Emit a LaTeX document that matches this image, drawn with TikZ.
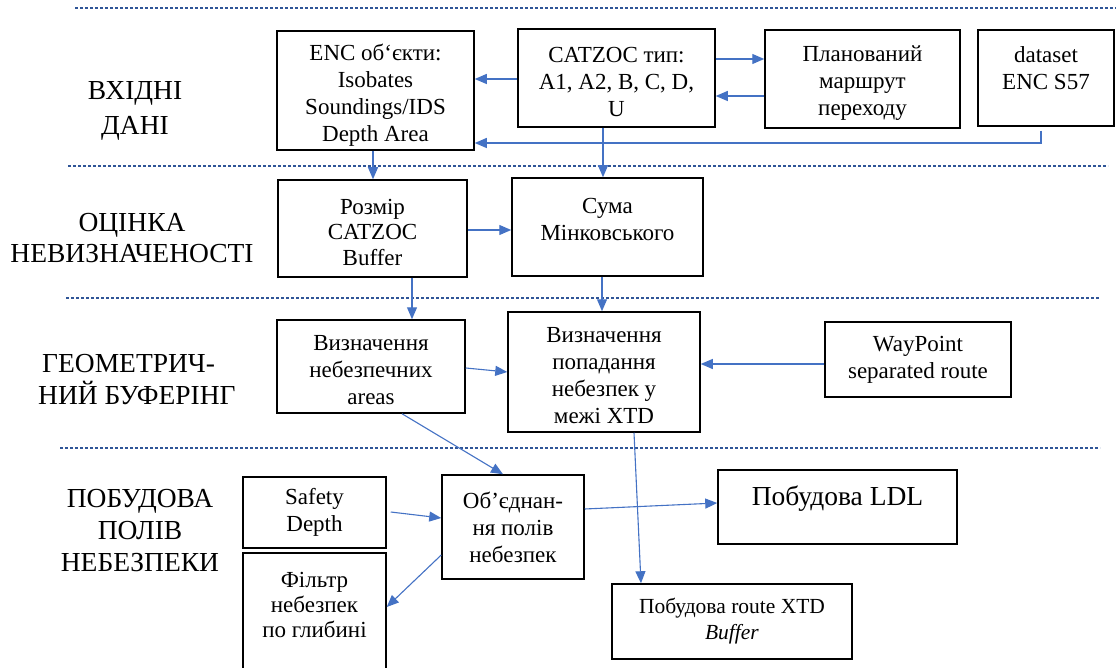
\documentclass[tikz,border=0pt]{standalone}
\usepackage{fontspec}
\setmainfont{Liberation Serif}
\usetikzlibrary{arrows.meta,calc}
\definecolor{arrblue}{RGB}{68,114,196}
\definecolor{dashblue}{RGB}{47,85,151}
\newcommand{\tstrx}{\rule{0pt}{23pt}}
\begin{document}
\begin{tikzpicture}[x=1pt,y=-1pt,
  box/.style={draw, line width=1.5pt, align=center, inner sep=0pt, font=\fontsize{23}{27}\selectfont},
  lab/.style={align=center, inner sep=0pt},
  arr/.style={draw=arrblue, line width=1.1pt, -{Triangle[length=12pt,width=10pt]}},
  sep/.style={draw=dashblue, line width=1.3pt, dash pattern=on 3pt off 2pt}]
\useasboundingbox (0,0) rectangle (1116,668);

% separators
\draw[sep] (75,8) -- (1116,8);
\draw[sep] (68,166) -- (1108,166);
\draw[sep] (66,298) -- (1100,298);
\draw[sep] (60,448) -- (1100,448);

% row labels
\node[lab, font=\fontsize{27.5}{35}\selectfont] (l1) at (135,111) {ВХІДНІ\\ДАНІ};
\node[lab, font=\fontsize{27.5}{31}\selectfont] (l2) at (132,238) {ОЦІНКА\\НЕВИЗНАЧЕНОСТІ};
\node[lab, align=left, anchor=west, font=\fontsize{27.5}{32}\selectfont] (l3) at (38,380) {\hspace*{4pt}ГЕОМЕТРИЧ-\\НИЙ БУФЕРІНГ};
\node[lab, font=\fontsize{27.5}{32}\selectfont] (l4) at (140,531) {ПОБУДОВА\\ПОЛІВ\\НЕБЕЗПЕКИ};

% boxes row 1
\node[box, minimum width=197pt, minimum height=119pt] (enc) at (375.5,90.5) {\rule{0pt}{26pt}ENC об‘єкти:\\Isobates\\Soundings/IDS\\Depth Area};
\node[box, minimum width=197pt, minimum height=98pt] (catzoc) at (616.5,78) {\tstrx CATZOC тип:\\A1, A2, B, C, D,\\U};
\node[box, minimum width=195pt, minimum height=98pt] (plan) at (862.5,79) {\tstrx Планований\\маршрут\\переходу};
\node[box, minimum width=136pt, minimum height=96pt] (ds) at (1046,78) {dataset\\ENC S57\rule[-19pt]{0pt}{19pt}};

% row 2
\node[box, minimum width=189pt, minimum height=97pt, font=\fontsize{23}{25.5}\selectfont] (rozmir) at (372.5,228.5) {\tstrx Розмір\\CATZOC\\Buffer};
\node[box, minimum width=191pt, minimum height=98pt] (suma) at (607.5,227) {Сума\\Мінковського\rule[-16pt]{0pt}{16pt}};

% row 3
\node[box, minimum width=188pt, minimum height=93pt] (vneb) at (371,366.5) {\tstrx Визначення\\небезпечних\\areas};
\node[box, minimum width=192pt, minimum height=120pt] (vpop) at (604,372) {\tstrx Визначення\\попадання\\небезпек у\\межі XTD};
\node[box, minimum width=186pt, minimum height=75pt] (wp) at (918,359.5) {WayPoint\\separated route};

% row 4
\node[box, minimum width=143pt, minimum height=71pt] (safety) at (314.5,512.5) {Safety\\Depth};
\node[box, minimum width=143pt, minimum height=157pt, font=\fontsize{23}{25}\selectfont] (filtr) at (314.5,631.5) {Фільтр\\небезпек\\по глибині\rule[-53pt]{0pt}{53pt}};
\node[box, minimum width=142pt, minimum height=104pt] (obj) at (513,527) {Об’єднан-\\ня полів\\небезпек};
\node[box, minimum width=239pt, minimum height=74pt, font=\fontsize{27.5}{30}\selectfont] (ldl) at (837.5,507) {Побудова LDL\rule[-22pt]{0pt}{22pt}};
\node[box, minimum width=240pt, minimum height=75pt, font=\fontsize{21.5}{26}\selectfont] (route) at (732,621.5) {Побудова route XTD\\\textit{Buffer}};

% connectors
\draw[arr] (catzoc.west |- 0,79) -- (enc.east |- 0,79);
\draw[arr] (catzoc.east |- 0,59) -- (plan.west |- 0,59);
\draw[arr] (plan.west |- 0,96) -- (catzoc.east |- 0,96);
\draw[arr] ($(ds.south -| 1041,0)+(0,4)$) |- (enc.east |- 0,143);
\draw[arr] (enc.south -| 373,0) -- (rozmir.north -| 373,0);
\draw[arr] (catzoc.south -| 603,0) -- (suma.north -| 603,0);
\draw[arr] (rozmir.east |- 0,230) -- (suma.west |- 0,230);
\draw[arr] (rozmir.south -| 412,0) -- (vneb.north -| 412,0);
\draw[arr] (suma.south -| 602,0) -- (vpop.north -| 602,0);
\draw[arr] (vneb.east |- 0,368) -- (vpop.west |- 0,372);
\draw[arr] (wp.west |- 0,364) -- (vpop.east |- 0,364);
\draw[arr] (vneb.south -| 402,0) -- (obj.north -| 503,0);
\draw[arr] (vpop.south -| 634,0) -- (route.north -| 641,0);
\draw[arr] ($(safety.east |- 0,512)+(4,0)$) -- (obj.west |- 0,518);
\draw[arr] (obj.east |- 0,509) -- (ldl.west |- 0,503);
\draw[arr] (obj.west |- 0,555) -- (filtr.east |- 0,607);
\end{tikzpicture}
\end{document}
